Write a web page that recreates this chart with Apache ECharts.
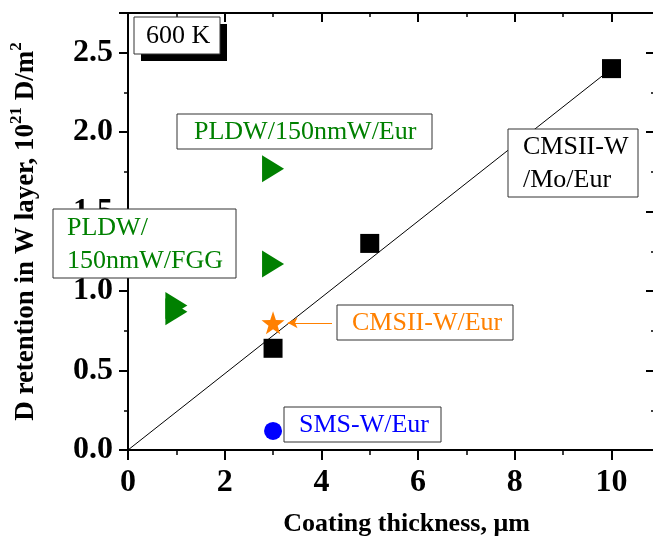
<!DOCTYPE html>
<html>
<head>
<meta charset="utf-8">
<script src="https://cdn.jsdelivr.net/npm/echarts@6/dist/echarts.min.js"></script>
<style>
  html, body { margin: 0; padding: 0; background: #fff; }
  #chart { width: 653px; height: 538px; }
</style>
</head>
<body>
<div id="chart"></div>
<script>
// Deuterium retention in W coatings at 600 K versus coating thickness
const fitX = [0, 10];
const fitY = [0, 2.4];

const cmsiiMoX = [3, 5, 10];
const cmsiiMoY = [0.64, 1.30, 2.40];

const pldwEurX = [3, 3];
const pldwEurY = [1.77, 1.17];

const pldwFggX = [1, 1];
const pldwFggY = [0.91, 0.87];

const cmsiiEurX = [3];
const cmsiiEurY = [0.80];

const smsX = [3];
const smsY = [0.12];

// annotation arrow for the CMSII-W/Eur label (data coordinates)
const arrowFrom = [4.22, 0.80];
const arrowTo = [3.30, 0.80];

const xMax = 10.9;
const yMax = 2.75;

const SERIF = '"Liberation Serif", "Times New Roman", serif';
const GREEN = '#008000';
const ORANGE = '#ff8000';
const BLUE = '#0000ff';

const pairs = (xs, ys) => xs.map((x, i) => [x, ys[i]]);

const starPath = 'path://M0,-10L2.35,-3.24L9.51,-3.09L3.8,1.24L5.88,8.09L0,4L-5.88,8.09L-3.8,1.24L-9.51,-3.09L-2.35,-3.24Z';

const TOP_Z = 200;

function labelBox(x, y, w, h, lines, color, textX, lineH, shadow) {
  const children = [];
  if (shadow) {
    children.push({
      type: 'rect', z: TOP_Z,
      shape: { x: shadow, y: shadow, width: w, height: h },
      style: { fill: '#000' }
    });
  }
  children.push({
    type: 'rect', z: TOP_Z,
    shape: { x: 0, y: 0, width: w, height: h },
    style: { fill: '#fff', stroke: '#333', lineWidth: 1 }
  });
  lines.forEach((t, i) => {
    children.push({
      type: 'text', z: TOP_Z + 1,
      style: {
        text: t, x: textX, y: lineH * (i + 0.5) + (h - lineH * lines.length) / 2 + 1,
        fill: color, font: '26px ' + SERIF, verticalAlign: 'middle', align: 'left'
      }
    });
  });
  return { type: 'group', x: x, y: y, z: TOP_Z, children: children };
}

const chart = echarts.init(document.getElementById('chart'), null, { renderer: 'canvas' });

const axisLine = { show: true, onZero: false, lineStyle: { color: '#000', width: 2 } };

chart.setOption({
  animation: false,
  backgroundColor: '#fff',
  grid: { left: 128, top: 13, width: 527, height: 437, containLabel: false, outerBoundsMode: 'none' },
  xAxis: [{
    type: 'value', min: 0, max: xMax, interval: 2,
    position: 'bottom',
    axisLine: axisLine,
    axisTick: { show: true, inside: false, length: 10, lineStyle: { width: 2, color: '#000' } },
    minorTick: { show: true, splitNumber: 2, length: 5, lineStyle: { width: 1.5, color: '#000' } },
    splitLine: { show: false },
    axisLabel: {
      margin: 17, showMaxLabel: false,
      fontFamily: SERIF, fontWeight: 'bold', fontSize: 32, color: '#000'
    },
    name: 'Coating thickness, μm',
    nameLocation: 'middle', nameGap: 61,
    nameTextStyle: { fontFamily: SERIF, fontWeight: 'bold', fontSize: 26, color: '#000', padding: [0, 0, 0, 30] }
  }, {
    type: 'value', min: 0, max: xMax, interval: 2,
    position: 'top',
    axisLine: axisLine,
    axisTick: { show: true, inside: true, length: 9, lineStyle: { width: 2, color: '#000' } },
    minorTick: { show: true, splitNumber: 2, length: 4, lineStyle: { width: 1.5, color: '#000' } },
    splitLine: { show: false },
    axisLabel: { show: false }
  }],
  yAxis: [{
    type: 'value', min: 0, max: yMax, interval: 0.5,
    position: 'left',
    axisLine: axisLine,
    axisTick: { show: true, inside: false, length: 9, lineStyle: { width: 2, color: '#000' } },
    minorTick: { show: true, splitNumber: 2, length: 4, lineStyle: { width: 1.5, color: '#000' } },
    splitLine: { show: false },
    axisLabel: {
      margin: 15, showMaxLabel: false,
      formatter: v => v.toFixed(1),
      fontFamily: SERIF, fontWeight: 'bold', fontSize: 32, color: '#000'
    },
    name: '{a|D retention in W layer, 10}{s|21}{a| D/m}{s|2}',
    nameLocation: 'middle', nameGap: 88, nameRotate: 90,
    nameTextStyle: {
      rich: {
        a: { fontFamily: SERIF, fontWeight: 'bold', fontSize: 27, color: '#000', lineHeight: 32, verticalAlign: 'bottom' },
        s: { fontFamily: SERIF, fontWeight: 'bold', fontSize: 17, color: '#000', lineHeight: 32, verticalAlign: 'top', padding: [0, 0, 9, 0] }
      }
    }
  }, {
    type: 'value', min: 0, max: yMax, interval: 0.5,
    position: 'right',
    axisLine: axisLine,
    axisTick: { show: true, inside: true, length: 9, lineStyle: { width: 2, color: '#000' } },
    minorTick: { show: true, splitNumber: 2, length: 4, lineStyle: { width: 1.5, color: '#000' } },
    splitLine: { show: false },
    axisLabel: { show: false }
  }],
  series: [{
    name: 'fit', type: 'line', data: pairs(fitX, fitY),
    showSymbol: false, symbol: 'none',
    lineStyle: { color: '#000', width: 1 }, z: 2
  }, {
    name: 'CMSII-W/Mo/Eur', type: 'scatter', data: pairs(cmsiiMoX, cmsiiMoY),
    symbol: 'rect', symbolSize: 19, itemStyle: { color: '#000', opacity: 1 }, z: 3
  }, {
    name: 'PLDW/150nmW/Eur', type: 'scatter', data: pairs(pldwEurX, pldwEurY),
    symbol: 'triangle', symbolSize: [27, 22], symbolRotate: -90,
    itemStyle: { color: GREEN, opacity: 1 }, z: 3
  }, {
    name: 'PLDW/150nmW/FGG', type: 'scatter', data: pairs(pldwFggX, pldwFggY),
    symbol: 'triangle', symbolSize: [27, 22], symbolRotate: -90,
    itemStyle: { color: GREEN, opacity: 1 }, z: 3
  }, {
    name: 'CMSII-W/Eur', type: 'scatter', data: pairs(cmsiiEurX, cmsiiEurY),
    symbol: starPath, symbolSize: 23, itemStyle: { color: ORANGE, opacity: 1 }, z: 4,
    markLine: {
      silent: true, symbol: ['none', 'arrow'], symbolSize: [8, 10],
      lineStyle: { color: ORANGE, width: 1, type: 'solid' },
      label: { show: false },
      data: [[{ coord: arrowFrom }, { coord: arrowTo }]]
    }
  }, {
    name: 'SMS-W/Eur', type: 'scatter', data: pairs(smsX, smsY),
    symbol: 'circle', symbolSize: 18, itemStyle: { color: BLUE, opacity: 1 }, z: 3
  }],
  graphic: [
    labelBox(134, 17, 86, 37, ['600 K'], '#000', 12, 34, 7),
    labelBox(177, 114, 255, 35, ['PLDW/150nmW/Eur'], GREEN, 17, 34),
    labelBox(53, 209, 183, 69, ['PLDW/', '150nmW/FGG'], GREEN, 14, 33),
    labelBox(508, 129, 130, 68, ['CMSII-W', '/Mo/Eur'], '#000', 15, 33),
    labelBox(337, 305, 176, 35, ['CMSII-W/Eur'], ORANGE, 15, 34),
    labelBox(284, 407, 157, 35, ['SMS-W/Eur'], BLUE, 15, 34)
  ]
});
</script>
</body>
</html>
